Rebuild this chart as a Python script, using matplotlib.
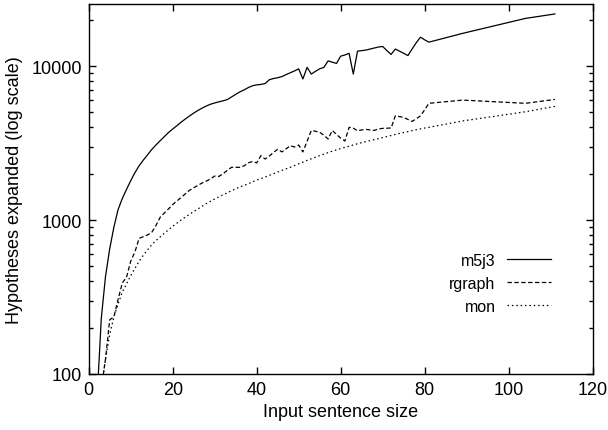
import matplotlib
matplotlib.use("Agg")
import matplotlib.pyplot as plt
from matplotlib.ticker import LogLocator, NullFormatter, FixedLocator

plt.rcParams['font.family'] = ['Liberation Sans', 'DejaVu Sans']
plt.rcParams['font.size'] = 13

# ---- data ----
m5j3_x = list(range(2, 82)) + [89, 104, 111]
m5j3_y = [70, 230, 430, 650, 900, 1170, 1380, 1580, 1800, 2030,
          2250, 2450, 2650, 2870, 3070, 3270, 3480, 3700, 3900, 4100,
          4320, 4530, 4740, 4950, 5150, 5330, 5500, 5650, 5760, 5860,
          5950, 6060, 6300, 6550, 6800, 7000, 7250, 7450, 7550, 7600,
          7700, 8150, 8300, 8400, 8550, 8800, 9050, 9300, 9590, 8250,
          9810, 8870, 9250, 9600, 9810, 10800, 10600, 10400, 11600, 11800,
          12100, 8870, 12500, 12600, 12700, 12900, 13100, 13300, 13400, 12600,
          11900, 12900, 12500, 12100, 11700, 12900, 14200, 15400, 14800, 14300,
          16300, 20400, 21800]

rgraph_x = list(range(3, 82)) + [89, 104, 111]
rgraph_y = [80, 125, 225, 235, 305, 390, 425, 540, 620, 760,
            780, 800, 830, 920, 1040, 1110, 1180, 1260, 1330, 1400,
            1480, 1560, 1620, 1680, 1740, 1790, 1850, 1930, 1920, 2000,
            2100, 2200, 2200, 2200, 2250, 2350, 2400, 2350, 2620, 2490,
            2600, 2750, 2880, 2770, 2900, 3040, 2980, 3070, 2770, 3250,
            3820, 3770, 3720, 3550, 3360, 3820, 3600, 3400, 3260, 4000,
            3950, 3800, 3850, 3880, 3850, 3820, 3900, 3940, 3950, 3960,
            4750, 4700, 4640, 4500, 4370, 4550, 4750, 5200, 5730,
            6010, 5730, 6070]

mon_x = [3, 4, 5, 6, 7, 8, 9, 10, 11, 12, 13, 14, 15, 16, 18, 20, 22, 24, 26, 28,
         30, 32, 34, 36, 38, 40, 42, 44, 46, 48, 50, 52, 54, 56, 58, 60, 62, 64,
         66, 68, 70, 72, 74, 76, 78, 80, 81, 89, 104, 111]
mon_y = [80, 125, 180, 235, 285, 340, 385, 435, 485, 540, 590, 640, 690, 735, 820,
         910, 1000, 1090, 1180, 1280, 1370, 1460, 1550, 1640, 1720, 1820, 1900,
         2000, 2100, 2200, 2320, 2440, 2560, 2680, 2800, 2910, 3020, 3130, 3230,
         3330, 3430, 3540, 3650, 3750, 3860, 3960, 4000, 4400, 5050, 5470]

x_ticks = [0, 20, 40, 60, 80, 100, 120]
y_ticks = [100, 1000, 10000]
y_ticklabels = ['100', '1000', '10000']

# ---- figure ----
fig = plt.figure(figsize=(6.08, 4.31), dpi=100)
ax = fig.add_axes([88.7 / 608, 1 - 375 / 431, 504 / 608, 370 / 431])

ax.plot(m5j3_x, m5j3_y, color='black', lw=0.9, ls='-', label='m5j3')
ax.plot(rgraph_x, rgraph_y, color='black', lw=0.9, ls=(0, (3.5, 2)), label='rgraph')
ax.plot(mon_x, mon_y, color='black', lw=0.9, ls=(0, (1.2, 2.3)), label='mon')

ax.set_yscale('log')
ax.set_xlim(0, 120)
ax.set_ylim(100, 25300)
ax.xaxis.set_major_locator(FixedLocator(x_ticks))
ax.yaxis.set_major_locator(FixedLocator(y_ticks))
ax.set_yticklabels(y_ticklabels)
ax.yaxis.set_minor_locator(LogLocator(base=10, subs=range(2, 10)))
ax.yaxis.set_minor_formatter(NullFormatter())

ax.tick_params(which='both', direction='in', top=True, right=True, width=1.0)
ax.tick_params(which='major', length=5, pad=5)
ax.tick_params(which='minor', length=3)
for s in ax.spines.values():
    s.set_linewidth(1.0)

ax.set_xlabel('Input sentence size', labelpad=4)
ax.set_ylabel('Hypotheses expanded (log scale)', labelpad=6)

ax.legend(loc='upper right', bbox_to_anchor=(0.929, 0.345), frameon=False,
          markerfirst=False, handlelength=2.75, handletextpad=0.7,
          labelspacing=0.5, borderaxespad=0, fontsize=11.5)

fig.savefig('out.png', dpi=100)
